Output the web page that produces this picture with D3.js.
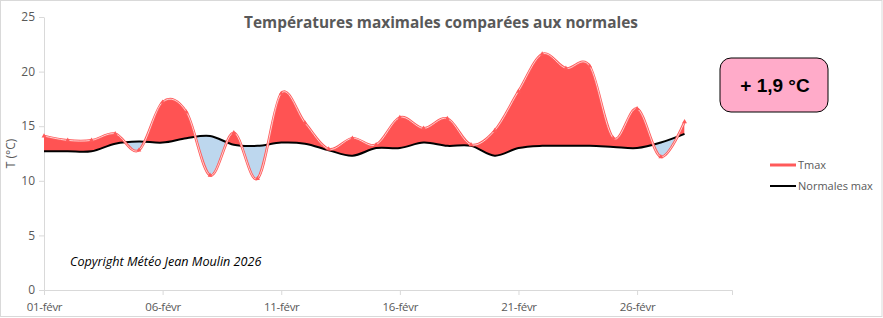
<!DOCTYPE html>
<html><head><meta charset="utf-8">
<script src="https://cdn.jsdelivr.net/npm/d3@7"></script>
<style>
body{margin:0;background:#fff;}
svg{display:block;}
</style></head>
<body>
<svg id="chart" width="883" height="318"></svg>
<script>
const days = [1,2,3,4,5,6,7,8,9,10,11,12,13,14,15,16,17,18,19,20,21,22,23,24,25,26,27,28];
const tmax = [14.1,13.7,13.7,14.3,12.8,17.2,16.3,10.5,14.4,10.2,18.0,15.3,12.9,13.9,13.3,15.8,14.8,15.7,13.3,14.6,18.2,21.6,20.3,20.5,13.9,16.6,12.2,15.4];
const normales = [12.7,12.7,12.7,13.4,13.6,13.5,13.9,14.1,13.3,13.2,13.5,13.4,12.8,12.3,13.0,13.0,13.5,13.2,13.2,12.3,13.0,13.2,13.2,13.2,13.1,13.0,13.5,14.3];
const xTickDays = [1,6,11,16,21,26];
const xTickLabels = ["01-févr","06-févr","11-févr","16-févr","21-févr","26-févr"];
const yTicks = [0,5,10,15,20,25];
const seriesNames = ["Tmax","Normales max"];
const anomalyLabel = "+ 1,9 °C";
const titleText = "Températures maximales comparées aux normales";
const copyrightText = "Copyright Météo Jean Moulin 2026";

(function(){
const svg = d3.select("#chart");
const W = 883, H = 318;
const mLeft = 44, mRight = 732, mTop = 17, mBottom = 290;

svg.append("rect").attr("x",0.5).attr("y",0.5).attr("width",W-1.5).attr("height",H-2)
  .attr("fill","#fff").attr("stroke","#d9d9d9");

const x = d3.scaleLinear().domain([1,30]).range([mLeft,mRight]);
const y = d3.scaleLinear().domain([0,25]).range([mBottom,mTop]);

const gray = "#595959";
const font = "Open Sans, Liberation Sans, sans-serif";

const yAxis = svg.append("g").attr("transform",`translate(${mLeft},0)`)
  .call(d3.axisLeft(y).tickValues(yTicks).tickSize(5).tickSizeOuter(0).tickPadding(4));
yAxis.select(".domain").attr("stroke","#d9d9d9");
yAxis.selectAll(".tick line").attr("stroke","#d9d9d9");
yAxis.selectAll(".tick text").attr("fill",gray).attr("font-size",12).attr("font-family",font).attr("dy","0.3em");

const xAxis = svg.append("g").attr("transform",`translate(0,${mBottom})`)
  .call(d3.axisBottom(x).tickValues(xTickDays).tickFormat((d,i)=>xTickLabels[i]).tickSize(5).tickSizeOuter(5).tickPadding(8));
xAxis.select(".domain").attr("stroke","#d9d9d9");
xAxis.selectAll(".tick line").attr("stroke","#d9d9d9");
xAxis.selectAll(".tick text").attr("fill",gray).attr("font-size",11.5).attr("font-family",font).attr("letter-spacing","-0.3px");

svg.append("text").attr("transform",`translate(15,${(mTop+mBottom)/2}) rotate(-90)`)
  .attr("text-anchor","middle").attr("fill",gray).attr("font-size",12).attr("font-family",font).text("T (°C)");

const data = days.map((d,i)=>({d, t:tmax[i], n:normales[i]}));
const curve = d3.curveCardinal.tension(0);

const defs = svg.append("defs");
defs.append("clipPath").attr("id","above").append("path")
  .attr("d", d3.area().x(p=>x(p.d)).y0(0).y1(p=>y(p.n)).curve(curve)(data));
defs.append("clipPath").attr("id","below").append("path")
  .attr("d", d3.area().x(p=>x(p.d)).y0(H).y1(p=>y(p.n)).curve(curve)(data));

const between = d3.area().x(p=>x(p.d)).y0(p=>y(p.n)).y1(p=>y(p.t)).curve(curve);
svg.append("path").attr("d",between(data)).attr("fill","#ff5353").attr("clip-path","url(#above)");
svg.append("path").attr("d",between(data)).attr("fill","#bdd7ee").attr("clip-path","url(#below)");

const lineT = d3.line().x(p=>x(p.d)).y(p=>y(p.t)).curve(curve);
const lineN = d3.line().x(p=>x(p.d)).y(p=>y(p.n)).curve(curve);

svg.append("path").attr("d",lineN(data)).attr("fill","none").attr("stroke","#000").attr("stroke-width",2);
svg.append("path").attr("d",lineT(data)).attr("fill","none").attr("stroke","#ff5a5a").attr("stroke-width",2.6);
svg.append("path").attr("d",lineT(data)).attr("fill","none").attr("stroke","#fff").attr("stroke-width",0.8).attr("opacity",0.9);

svg.selectAll(".mk").data(data).enter().append("path").attr("class","mk")
  .attr("transform",p=>`translate(${x(p.d)},${y(p.t)})`)
  .attr("d",d3.symbol(d3.symbolTriangle,10)()).attr("fill","#ff5a5a");

svg.append("text").attr("x",441).attr("y",28).attr("text-anchor","middle")
  .attr("fill",gray).attr("font-size",15.4).attr("font-weight","bold").attr("font-family",font)
  .text(titleText);

svg.append("text").attr("x",70).attr("y",266).attr("fill","#000").attr("font-size",12.6)
  .attr("font-style","italic").attr("font-family",font).text(copyrightText);

svg.append("rect").attr("x",720).attr("y",58).attr("width",108).attr("height",54).attr("rx",11)
  .attr("fill","#ffabc9").attr("stroke","#000").attr("stroke-width",1);
svg.append("text").attr("x",775).attr("y",92).attr("text-anchor","middle").attr("fill","#000")
  .attr("font-size",19).attr("font-weight","bold").attr("font-family","Liberation Sans, Arial, sans-serif").text(anomalyLabel);

const leg = [{c:"#ff5a5a",w:3,y:165},{c:"#000",w:2,y:186}];
leg.forEach((l,i)=>{
  svg.append("line").attr("x1",770).attr("x2",796).attr("y1",l.y).attr("y2",l.y).attr("stroke",l.c).attr("stroke-width",l.w);
  svg.append("text").attr("x",798).attr("y",l.y+4).attr("fill",gray).attr("font-size",11).attr("font-family",font).text(seriesNames[i]);
});
})();
</script>
</body></html>
